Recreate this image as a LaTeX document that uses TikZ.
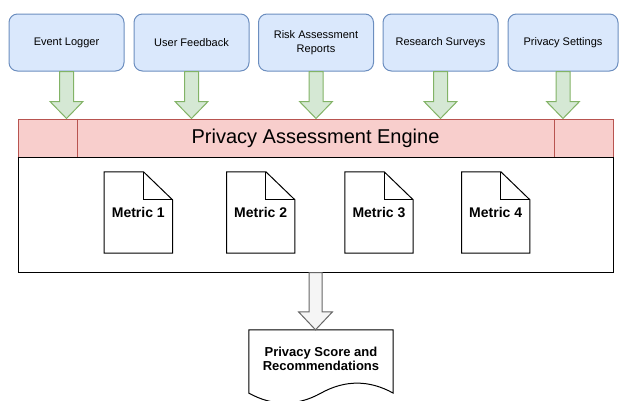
\documentclass[tikz,border=0pt]{standalone}
\usepackage{fontspec}
\setmainfont{Liberation Sans}
\usetikzlibrary{positioning,calc}
\definecolor{srcfill}{HTML}{DAE8FC}
\definecolor{srcline}{HTML}{6C8EBF}
\definecolor{feedfill}{HTML}{D5E8D4}
\definecolor{feedline}{HTML}{82B366}
\definecolor{enginefill}{HTML}{F8CECC}
\definecolor{engineline}{HTML}{B85450}
\definecolor{outfill}{HTML}{F5F5F5}
\definecolor{outline}{HTML}{666666}

\tikzset{
  source/.style={draw=srcline, fill=srcfill, rounded corners=8.5pt, line width=1pt,
    minimum width=115pt, minimum height=57pt, inner sep=2pt, align=center,
    font=\fontsize{11}{13.5}\selectfont},
  feed/.style={draw=feedline, fill=feedfill, line width=1pt},
  metric/.style={minimum width=68pt, minimum height=81pt, inner sep=0pt,
    font=\fontsize{14}{17}\selectfont\bfseries},
  page/.style={draw=black, fill=white, line width=1pt, line join=miter},
  docframe/.style={minimum width=144pt, minimum height=74pt, inner sep=0pt},
  doctext/.style={align=center, inner sep=0pt, font=\fontsize{13}{14.5}\selectfont\bfseries}
}

\begin{document}
\begin{tikzpicture}[x=1pt, y=1pt]
    \useasboundingbox (0,0) rectangle (619,-400);
    % Sources
    \node[source] (logger)   at (66.5,-42.5) {Event Logger};
    \node[source] (feedback) at (191.5,-42.5) {User Feedback};
    \node[source] (risk)     at (316,-42.5) {Risk Assessment\\Reports};
    \node[source] (surveys)  at (440.5,-42.5) {Research Surveys};
    \node[source, minimum width=110pt] (settings) at (563,-42.5) {Privacy Settings};

    % Engine
    \node[draw=black, fill=white, line width=1pt, minimum width=595pt, minimum height=115pt,
          inner sep=0pt] (metrics) at (315.5,-214.5) {};
    \node[draw=engineline, fill=enginefill, line width=1pt, minimum width=595pt, minimum height=38pt,
          inner sep=0pt, font=\fontsize{20}{24}\selectfont] (engine) at (315.5,-138) {Privacy Assessment Engine};
    \draw[engineline, line width=1pt] ($(engine.north west)+(60,0)$) -- ($(engine.south west)+(60,0)$);
    \draw[engineline, line width=1pt] ($(engine.north east)+(-59,0)$) -- ($(engine.south east)+(-59,0)$);
    \draw[black, line width=1pt] (engine.south west) -- (engine.south east);

    % Inputs
    \foreach \s in {logger,feedback,risk,surveys,settings} {
        \coordinate (tip) at (\s.south |- engine.north);
        \draw[feed] ($(\s.south)+(-7,0)$) -- ($(tip)+(-7,17)$) -- ($(tip)+(-16.5,17)$) -- (tip)
              -- ($(tip)+(16.5,17)$) -- ($(tip)+(7,17)$) -- ($(\s.south)+(7,0)$) -- cycle;
    }

    % Metrics
    \foreach \i/\x in {1/138.3,2/260.7,3/379,4/495.7} {
        \node[metric] (m\i) at (\x,-212.5) {};
        \draw[page] (m\i.north west) -- ($(m\i.north east)+(-29,0)$) -- ($(m\i.north east)+(0,-28)$)
              -- (m\i.south east) -- (m\i.south west) -- cycle;
        \draw[page, fill=none] ($(m\i.north east)+(-29,0)$) -- ($(m\i.north east)+(-29,-28)$)
              -- ($(m\i.north east)+(0,-28)$);
        \node[metric] at (m\i) {Metric \i};
    }

    % Output
    \node[docframe] (report) at (321,-367) {};
    \draw[draw=black, fill=white, line width=1pt] (report.north west) -- (report.north east)
          -- ($(report.south east)+(0,11.1)$)
          .. controls ($(report.south east)+(-24,24.4)$) and ($(report.south)+(24,24.4)$) .. ($(report.south)+(0,11.1)$)
          .. controls ($(report.south)+(-24,-2.2)$) and ($(report.south west)+(24,-2.2)$) .. ($(report.south west)+(0,11.1)$)
          -- cycle;
    \node[doctext] (reporttext) at ($(report.center)+(0,8)$) {Privacy Score and\\Recommendations};
    \coordinate (out) at (metrics.south |- report.north);
    \draw[draw=outline, fill=outfill, line width=1pt] ($(metrics.south)+(-6.5,0)$) -- ($(out)+(-6.5,18)$)
          -- ($(out)+(-17,18)$) -- (out) -- ($(out)+(17,18)$) -- ($(out)+(6.5,18)$)
          -- ($(metrics.south)+(6.5,0)$) -- cycle;
\end{tikzpicture}
\end{document}
